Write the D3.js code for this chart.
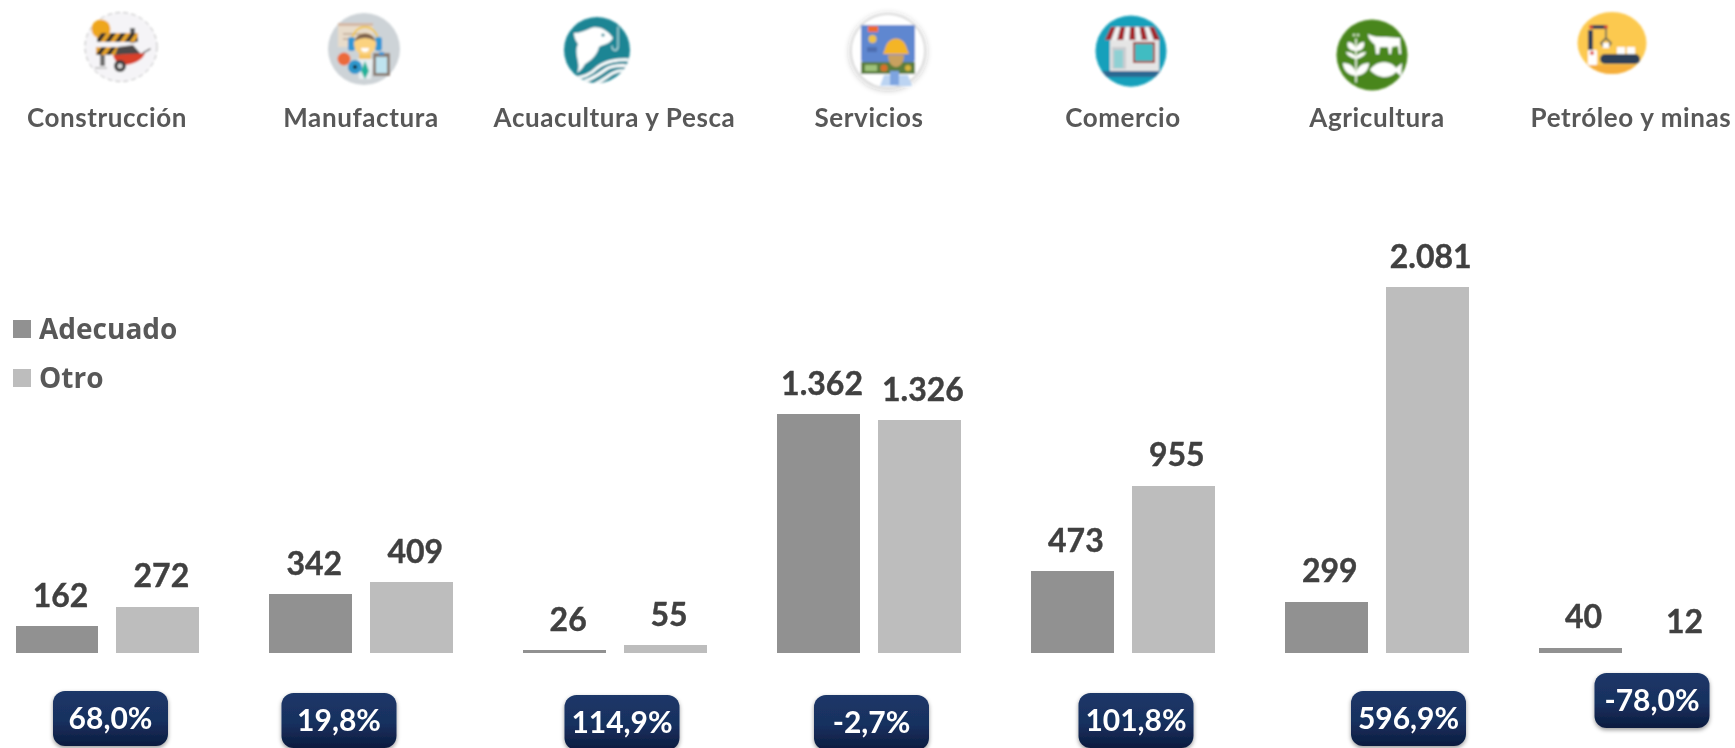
<!DOCTYPE html>
<html><head><meta charset="utf-8">
<script src="https://cdn.jsdelivr.net/npm/d3@7"></script>
<style>html,body{margin:0;padding:0;background:#fff;overflow:hidden}svg{display:block}text{font-family:Lato,sans-serif}</style>
</head><body><svg id="c" width="1735" height="748"></svg>
<script>
// ---- data ----
const categories = ["Construcción","Manufactura","Acuacultura y Pesca","Servicios","Comercio","Agricultura","Petróleo y minas"];
const seriesNames = ["Adecuado","Otro"];
const adecuado = [162,342,26,1362,473,299,40];
const otro = [272,409,55,1326,955,2081,12];
const variation = ["68,0%","19,8%","114,9%","-2,7%","101,8%","596,9%","-78,0%"];
// ---- layout ----
const W=1735,H=748,baseY=653,topY=287;
const labelX=[107,361,614.5,869,1123,1377,1631];
const badgeX=[110.5,339,622,871.5,1136,1408.5,1652];
const badgeY=[691,693,695,695,693,691,673];
const iconPos=[[121,47],[364,49],[597,50],[888,51],[1131,51],[1372,55],[1612,43]];
const colors={Adecuado:"#919191",Otro:"#bdbdbd"};
const fmt=v=>d3.format(",")(v).replace(/,/g,".");

const svg=d3.select("#c");
const defs=svg.append("defs");
const blur=(id,s)=>defs.append("filter").attr("id",id).attr("x","-10%").attr("y","-10%").attr("width","120%").attr("height","120%").append("feGaussianBlur").attr("stdDeviation",s);
blur("bT",0.6);blur("bI",0.85);
const g=defs.append("linearGradient").attr("id","bg").attr("x1",0).attr("x2",0).attr("y1",0).attr("y2",1);
g.append("stop").attr("offset","0").attr("stop-color","#1c3768");
g.append("stop").attr("offset","0.55").attr("stop-color","#18305f");
g.append("stop").attr("offset","1").attr("stop-color","#0c1c3f");
const sh=defs.append("filter").attr("id","sh").attr("x","-15%").attr("y","-15%").attr("width","130%").attr("height","140%");
sh.append("feDropShadow").attr("dx",0).attr("dy",2).attr("stdDeviation",2.2).attr("flood-color","#000").attr("flood-opacity",0.4);
const sh2=defs.append("filter").attr("id","sh2").attr("x","-20%").attr("y","-20%").attr("width","140%").attr("height","140%");
sh2.append("feDropShadow").attr("dx",0).attr("dy",1).attr("stdDeviation",3).attr("flood-color","#000").attr("flood-opacity",0.3);
const st=defs.append("pattern").attr("id","stripes").attr("width",8).attr("height",8).attr("patternUnits","userSpaceOnUse").attr("patternTransform","rotate(35)");
st.append("rect").attr("width",8).attr("height",8).attr("fill","#e9a52a");
st.append("rect").attr("width",4).attr("height",8).attr("fill","#2d2d2d");

// ---- scales ----
const x0=d3.scaleBand().domain(categories).range([15.5,1722.5]).paddingInner(70/254).paddingOuter(0);
const x1=d3.scaleBand().domain(seriesNames).range([0,x0.bandwidth()]).paddingInner(18/101).paddingOuter(0);
const y=d3.scaleLinear().domain([10,2081]).range([baseY,topY]);

// ---- bars ----
const rows=categories.map((c,i)=>({c,i,vals:[{s:"Adecuado",v:adecuado[i]},{s:"Otro",v:otro[i]}]}));
const grp=svg.append("g").selectAll("g").data(rows).join("g").attr("transform",d=>`translate(${x0(d.c)},0)`);
grp.selectAll("rect").data(d=>d.vals).join("rect")
  .attr("x",d=>x1(d.s)).attr("width",x1.bandwidth())
  .attr("y",d=>y(d.v)).attr("height",d=>baseY-y(d.v)).attr("fill",d=>colors[d.s]).attr("shape-rendering","crispEdges");

const txt=svg.append("g").attr("filter","url(#bT)");
// value labels
const tg=txt.append("g").selectAll("g").data(rows).join("g").attr("transform",d=>`translate(${x0(d.c)},0)`);
tg.selectAll("text").data(d=>d.vals).join("text")
  .attr("x",d=>x1(d.s)+x1.bandwidth()/2+3.5).attr("y",d=>y(d.v)-19.5)
  .attr("text-anchor","middle").attr("font-size",32).attr("font-weight",700).attr("fill","#404040")
  .attr("stroke","#404040").attr("stroke-width",0.4)
  .text(d=>fmt(d.v));
// category labels
txt.append("g").selectAll("text").data(categories).join("text")
  .attr("x",(d,i)=>labelX[i]).attr("y",127).attr("text-anchor","middle")
  .attr("font-size",26).attr("letter-spacing",0.6).attr("font-weight",700).attr("fill","#595959").text(d=>d);
// legend
const lg=svg.append("g").selectAll("g").data(seriesNames).join("g").attr("transform",(d,i)=>`translate(13,${320+i*49})`);
lg.append("rect").attr("width",18).attr("height",18).attr("fill",d=>colors[d]);
lg.append("text").attr("x",26).attr("y",18.5).attr("font-size",28).attr("font-weight",700)
  .style("font-family","'Open Sans',sans-serif").attr("fill","#595959").attr("filter","url(#bT)").text(d=>d);
// badges
const bw=115,bh=55;
const bd=svg.append("g").selectAll("g").data(variation).join("g").attr("transform",(d,i)=>`translate(${badgeX[i]-bw/2},${badgeY[i]})`);
bd.append("rect").attr("width",bw).attr("height",bh).attr("rx",12).attr("fill","url(#bg)").attr("filter","url(#sh)");
bd.append("text").attr("x",bw/2).attr("y",bh/2+10.5).attr("text-anchor","middle").attr("font-size",30).attr("font-weight",700).attr("fill","#fff").attr("filter","url(#bT)").text(d=>d);

// ---- icons ----
const ic=svg.append("g").selectAll("g").data(iconPos).join("g").attr("transform",d=>`translate(${d[0]},${d[1]})`).attr("filter","url(#bI)");
const I=i=>ic.filter((d,k)=>k===i);
const R=(s,x,y,w,h,f,rx)=>s.append("rect").attr("x",x).attr("y",y).attr("width",w).attr("height",h).attr("fill",f).attr("rx",rx||0);
const C=(s,x,y,r,f)=>s.append("circle").attr("cx",x).attr("cy",y).attr("r",r).attr("fill",f);
const P=(s,p,f,sc,sw)=>s.append("path").attr("d",p).attr("fill",f||"none").attr("stroke",sc||"none").attr("stroke-width",sw||0).attr("stroke-linecap","round");
// clip
defs.append("clipPath").attr("id","clipAq").append("circle").attr("r",33);
defs.append("clipPath").attr("id","clipCo").append("circle").attr("r",35.5);
defs.append("clipPath").attr("id","clipPe").append("ellipse").attr("rx",34.5).attr("ry",31);

// 0 construction
{const s=I(0);
 s.append("ellipse").attr("rx",36).attr("ry",34.5).attr("fill","#f5f4f7").attr("stroke","#b9b9b9").attr("stroke-width",1).attr("stroke-dasharray","5 3");
 R(s,-21,2,5,17,"#6f6f6f");R(s,9,-19,5,15,"#5b5b5b");
 C(s,-20,-18,9.5,"#eea61f");
 R(s,-24,-14,41,9,"url(#stripes)",1);R(s,-25,0,30,8,"url(#stripes)",1);
 P(s,"M-6 8 L-3 0 L12 -2 L20 7Z","#4d4a4a");
 P(s,"M-8 8 L24 6 C22 14 10 18 3 18 C-3 18 -7 13 -8 8Z","#d8402b");
 P(s,"M22 6 L29 2","none","#777",1.6);
 C(s,-1,19,6,"#3a3a3a");C(s,-1,19,2.5,"#d9d9d9");
 R(s,-26,20,12,2,"#c9c9c9");}
// 1 manufactura
{const s=I(1);
 C(s,0,0,36,"#cdd3d7");
 R(s,-26,-26,35,24,"#e8dccb");R(s,-26,-26,35,3,"#d4b9a6");R(s,-21,-16,18,2,"#c9b6a3");R(s,-21,-11,18,2,"#c9b6a3");
 P(s,"M-12 -8 A13 14 0 0 1 14 -8","none","#f0c64b",2);
 R(s,-16,-12,7,14,"#3097d5",3);R(s,11,-12,7,14,"#3097d5",3);
 R(s,-5,2,12,10,"#f5c462");
 C(s,1,-5,11,"#fbd27f");
 P(s,"M-9 -8 C-8 -18 10 -18 11 -8 C5 -12 -3 -12 -9 -8Z","#7d6250");
 P(s,"M-3 -1 A4 4 0 0 0 5 -1Z","#fff");
 P(s,"M-7 10 L9 10 L7 30 L-5 30Z","#e8eef0");
 P(s,"M1 12 L5 22 L1 30 L-3 22Z","#23b29a");
 R(s,9,4,17,23,"#8b7e74",1);R(s,12,8,11,16,"#bfe3ef");R(s,15,3,5,3,"#3097d5");
 C(s,-20,10,6.5,"#ec6a3b");C(s,-9,18,7,"#2d97cc");C(s,-9,18,2,"#123");}
// 2 aquaculture
{const s=I(2);
 C(s,0,0,33,"#1a8594");
 const c=s.append("g").attr("clip-path","url(#clipAq)");
 P(c,"M-34 26 C-20 30 -8 26 0 18 C8 11 22 9 34 10","none","#fff",3);
 P(c,"M-26 33 C-12 34 0 26 8 20 C14 15 24 15 34 16","none","#fff",3);
 P(c,"M-8 36 C2 34 10 26 16 23 C22 20 28 20 34 22","none","#fff",3);
 P(s,"M-20 23 C-15 14 -24 4 -19 -6 C-22 -10 -23 -14 -23 -17 C-17 -17 -13 -19 -8 -21 C0 -26 11 -20 16 -12 C12 -5 6 -6 2 -3 C0 6 -7 11 -12 14 C-14 18 -17 21 -20 23Z","#fff");
 C(s,6,-15,1.6,"#1a8594");
 P(s,"M21 -23 L21 -3 C20 2 15 1 15 -4","none","#bfe0e4",1.3);}
// 3 services
{const s=I(3);
 s.append("circle").attr("r",37).attr("fill","#fff").attr("stroke","#d4d4d4").attr("stroke-width",1.5).attr("filter","url(#sh2)");
 R(s,-27,-26,54,37,"#5f87d0",2);
 R(s,-20,-25,10,6,"#ef6a2c");C(s,-15.5,-12,4,"#eec245");R(s,-21,-4,10,5,"#4d6db0");
 R(s,-27,11,54,12,"#5a7d3c");R(s,-23,14,12,6,"#9ec27a");C(s,-4,17,3.5,"#d9702a");C(s,20,17,3,"#d8b53a");
 P(s,"M-4 24 L20 24 L24 35 L-8 35Z","#bcd4f2");R(s,2,20,9,14,"#7ea4e0");
 P(s,"M0 4 C0 20 16 20 16 4Z","#c9a15e");
 P(s,"M-3 -2 C0 -16 16 -16 19 -2 L21 3 L-5 3Z","#f4b526");}
// 4 commerce
{const s=I(4);
 C(s,0,0,35.5,"#12a0bb");
 const c=s.append("g").attr("clip-path","url(#clipCo)");
 R(c,-36,20,72,6,"#2a6792");R(c,-36,26,72,12,"#12a0bb");
 R(s,-21,-11,49,31,"#e5e5e5");
 R(s,-19,-4,14,22,"#c9ccd0");R(s,-17,-1,9,18,"#8fd0d3");
 R(s,2,-9,22,21,"#a63a2e");R(s,4,-7,18,17,"#3fbcc2");
 const a=[0,1,2,3,4,5,6,7,8];
 s.selectAll(".aw").data(a).join("path").attr("class","aw")
  .attr("d",k=>{const tw=43/9,bw=55/9;const tx=-20+k*tw,bx=-26+k*bw;return `M${tx} -24 L${tx+tw} -24 L${bx+bw} -11 L${bx} -11Z`;})
  .attr("fill",k=>k%2?"#f1f1f1":"#a5252a");}
// 5 agriculture
{const s=I(5);
 C(s,0,0,35.5,"#4a861f");
 P(s,"M-4 -21 C2 -18 6 -18 14 -18 C20 -18 24 -17 28 -17 L29 -1 L27 -1 L26 -9 L20 -8 L19 -1 L17 -1 L16 -8 L8 -8 L7 -1 L4 -1 L3 -10 C0 -13 -4 -16 -4 -21Z","#fff");
 P(s,"M-2 15 C5 4 20 6 24 13 L30 8 L29 21 L24 17 C18 24 6 24 -2 15Z","#fff");
 P(s,"M-16 -16 L-16 27","none","#fff",1.5);
 P(s,"M-16 -4 C-23 -4 -26 -9 -24 -13 C-19 -13 -16 -9 -16 -4Z","#fff");
 P(s,"M-16 -4 C-9 -4 -7 -9 -8 -13 C-13 -13 -16 -9 -16 -4Z","#fff");
 P(s,"M-16 4 C-22 3 -26 -1 -26 -3 C-20 -3 -16 0 -16 4Z","#fff");
 P(s,"M-16 4 C-10 3 -6 -1 -6 -3 C-12 -3 -16 0 -16 4Z","#fff");
 P(s,"M-16 21 C-26 20 -29 13 -29 8 C-22 8 -16 12 -16 21Z","#fff");
 P(s,"M-16 21 C-6 20 -3 13 -3 8 C-10 8 -16 12 -16 21Z","#fff");
 C(s,-18,-20,1.5,"#cfe2bf");C(s,-14,-20,1.5,"#cfe2bf");}
// 6 petroleum
{const s=I(6);
 s.append("ellipse").attr("rx",34.5).attr("ry",31).attr("fill","#fcc94f");
 const c=s.append("g").attr("clip-path","url(#clipPe)");
 R(c,-36,22,72,12,"#f5ae3b");
 R(s,-12,11,40,10,"#2f4058",5);
 R(s,5,4,8,7,"#fff");R(s,15,4,8,7,"#fff");
 R(s,-24,-13,5,20,"#2f4058");R(s,-22,-18,17,4,"#2f4058");
 R(s,-24,7,9,15,"#fff",1);C(s,-20,10,2,"#e0453a");
 C(s,-21,-16,2,"#e0453a");C(s,-6,-16,2,"#e0453a");
 P(s,"M-6 -14 L-6 -5 M-6 -5 L-11 0 L-9 3 M-6 -5 L-1 0 L-3 3","none","#6b6b5a",1.8);
 R(s,-9,0,6,5,"#fff");}
</script></body></html>
